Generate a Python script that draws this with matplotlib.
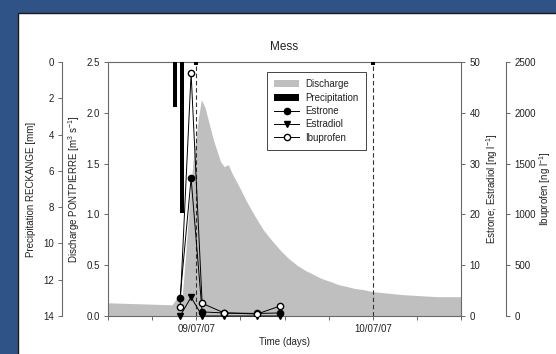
import numpy as np
import matplotlib
matplotlib.use("Agg")
import matplotlib.pyplot as plt
import matplotlib.dates as mdates
from matplotlib.patches import Rectangle, Patch
from matplotlib.lines import Line2D

plt.rcParams['font.family'] = ['Liberation Sans', 'DejaVu Sans']
plt.rcParams['mathtext.fontset'] = 'custom'
plt.rcParams['mathtext.rm'] = 'Liberation Sans'
plt.rcParams['mathtext.it'] = 'Liberation Sans:italic'
plt.rcParams['mathtext.default'] = 'regular'

# all times in hours relative to 09/07/07 00:00
q_hours = [-12.0, -7.6, -3.3, -2.7, -1.9, -1.5, -0.95, -0.4, 0.3, 0.7, 1.2,
           2.3, 3.3, 3.8, 4.35, 4.9, 6.0, 6.9, 8.0, 9.1, 10.2, 11.4, 12.5,
           13.7, 14.8, 15.9, 17.0, 18.2, 19.3, 20.5, 21.6, 22.7, 24.0, 28.1,
           32.8, 36.0]
q_values = [0.13, 0.12, 0.11, 0.17, 0.20, 0.55, 1.10, 1.55, 1.95, 2.13, 2.05,
            1.74, 1.52, 1.47, 1.49, 1.40, 1.25, 1.12, 0.98, 0.85, 0.75, 0.65,
            0.57, 0.50, 0.45, 0.41, 0.37, 0.34, 0.31, 0.29, 0.27, 0.26, 0.24,
            0.21, 0.19, 0.19]

precip_hours = [-2.9, -1.9, 0.0, 24.0]
precip_mm = [2.5, 8.3, 0.15, 0.15]

sample_hours = [-2.2, -0.7, 0.8, 3.8, 8.3, 11.4]
estrone = [3.6, 27.1, 0.8, 0.6, 0.5, 0.6]
estradiol = [0.0, 3.7, 0.0, 0.0, 0.0, 0.0]
ibuprofen = [89, 2390, 125, 30, 20, 99]

event_hours = [0.0, 24.0]

day0 = mdates.datestr2num("2007-07-09")


def to_dates(hours):
    return day0 + np.asarray(hours, dtype=float) / 24.0


grey = "#6a6a6a"
txt = "#222222"
fs = 7

fig = plt.figure(figsize=(5.56, 3.54), dpi=100)
fig.patch.set_facecolor("#2F5287")
fig.add_artist(Rectangle((18 / 556, -0.1), 1.2, 1.1 - 13 / 354,
                         transform=fig.transFigure, facecolor="white",
                         edgecolor="#1a1a1a", lw=1.0, zorder=-5))

ax = fig.add_axes([108 / 556, 1 - 316 / 354, 353 / 556, 254 / 354])
ax.patch.set_alpha(0)
ax.fill_between(to_dates(q_hours), q_values, color="#BFBFBF", lw=0)
for h in event_hours:
    ax.axvline(to_dates([h])[0], color="#333333", lw=0.8, ls=(0, (4, 2.5)))
ax.set_xlim(day0 - 0.5, day0 + 1.5)
ax.set_ylim(0, 2.5)
ax.set_yticks(np.arange(0, 2.51, 0.5))
ax.yaxis.set_major_formatter(matplotlib.ticker.FormatStrFormatter("%.1f"))
ax.xaxis.set_major_locator(mdates.DayLocator())
ax.xaxis.set_minor_locator(mdates.HourLocator(byhour=[0, 6, 12, 18]))
ax.xaxis.set_major_formatter(mdates.DateFormatter("%d/%m/%y"))
ax.set_xlabel("Time (days)", fontsize=fs, color=txt, labelpad=2)
ax.set_ylabel("Discharge PONTPIERRE [m$^3$ s$^{-1}$]", fontsize=fs,
              color=txt, labelpad=3)
ax.set_title("Mess", fontsize=8.5, color=txt, pad=9)
ax.spines["right"].set_visible(False)

# precipitation axis, inverted, far left
ax_p = ax.twinx()
ax_p.bar(to_dates(precip_hours), precip_mm, width=0.022, color="black",
         lw=0)
ax_p.set_ylim(14, 0)
ax_p.set_yticks(np.arange(0, 15, 2))
ax_p.yaxis.set_ticks_position("left")
ax_p.yaxis.set_label_position("left")
ax_p.spines["left"].set_position(("axes", -0.130))
for s in ["right", "top", "bottom"]:
    ax_p.spines[s].set_visible(False)
ax_p.set_ylabel("Precipitation RECKANGE [mm]", fontsize=fs, color=txt,
                labelpad=5)

# estrone / estradiol axis
ax2 = ax.twinx()
ax2.plot(to_dates(sample_hours), estrone, color="black", lw=0.7,
         marker="o", ms=4.5, mfc="black", mec="black")
ax2.plot(to_dates(sample_hours), estradiol, color="black", lw=0.7,
         marker="v", ms=4.5, mfc="black", mec="black", clip_on=False)
ax2.set_ylim(0, 50)
ax2.set_yticks(np.arange(0, 51, 10))
for s in ["left", "top", "bottom"]:
    ax2.spines[s].set_visible(False)
ax2.set_ylabel("Estrone; Estradiol [ng l$^{-1}$]", fontsize=fs, color=txt,
               labelpad=3)

# ibuprofen axis
ax3 = ax.twinx()
ax3.plot(to_dates(sample_hours), ibuprofen, color="black", lw=0.7,
         marker="o", ms=4.5, mfc="white", mec="black")
ax3.set_ylim(0, 2500)
ax3.set_yticks(np.arange(0, 2501, 500))
ax3.spines["right"].set_position(("axes", 1.127))
for s in ["left", "top", "bottom"]:
    ax3.spines[s].set_visible(False)
ax3.set_ylabel("Ibuprofen [ng l$^{-1}$]", fontsize=fs, color=txt,
               labelpad=1)

for a in [ax, ax_p, ax2, ax3]:
    for s in a.spines.values():
        s.set_color(grey)
        s.set_linewidth(0.8)
    a.tick_params(which="both", direction="out", length=3, width=0.7,
                  color=grey, labelsize=fs, labelcolor=txt, pad=3)

handles = [
    Patch(facecolor="#BFBFBF", edgecolor="none", label="Discharge"),
    Patch(facecolor="black", edgecolor="none", label="Precipitation"),
    Line2D([], [], color="black", lw=0.7, marker="o", ms=4.5,
           mfc="black", label="Estrone"),
    Line2D([], [], color="black", lw=0.7, marker="v", ms=4.5,
           mfc="black", label="Estradiol"),
    Line2D([], [], color="black", lw=0.7, marker="o", ms=4.5,
           mfc="white", label="Ibuprofen"),
]
leg = ax3.legend(handles=handles, loc="upper left",
                 bbox_to_anchor=(0.45, 0.961), borderaxespad=0,
                 fontsize=7, labelspacing=0.35, handlelength=2.6,
                 handletextpad=0.6, borderpad=0.75, fancybox=False,
                 framealpha=1, edgecolor="#444444")
leg.get_frame().set_linewidth(0.7)
for t in leg.get_texts():
    t.set_color(txt)

fig.savefig("out.png", dpi=100, facecolor=fig.get_facecolor())
